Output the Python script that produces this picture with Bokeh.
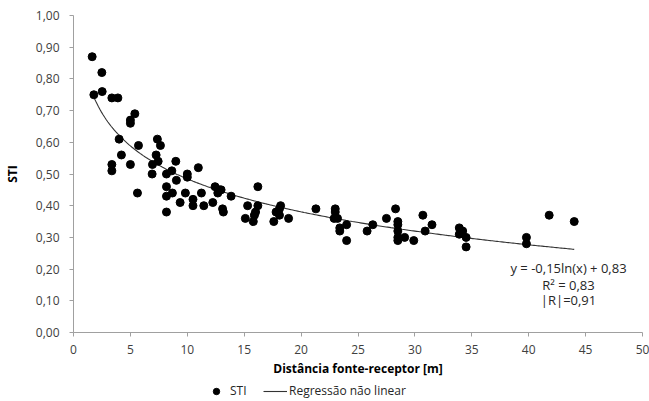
import numpy as np
from bokeh.plotting import figure
from bokeh.layouts import column
from bokeh.models import (Range1d, FixedTicker, CustomJSTickFormatter, Legend,
                          LegendItem, Label)
from bokeh.embed import file_html
from bokeh.resources import INLINE

# ---- data ----
distance = [1.64, 2.49, 1.79, 2.52, 3.37, 3.90, 5.39, 5.00, 5.00, 4.01,
            5.71, 4.21, 3.37, 3.37, 5.00, 7.37, 7.64, 7.26, 6.94, 7.44,
            6.91, 8.99, 5.62, 8.17, 8.64, 8.17, 8.17, 8.69, 9.04, 10.0,
            10.0, 10.97, 9.83, 9.37, 10.5, 10.5, 8.17, 11.24, 11.45, 12.24,
            12.44, 12.82, 12.97, 12.68, 13.1, 13.17, 13.85, 16.2, 15.3, 16.2,
            16.0, 15.9, 15.1, 15.8, 18.2, 18.1, 17.8, 18.1, 17.6, 18.9,
            21.3, 23.0, 23.0, 23.2, 22.9, 23.4, 23.4, 24.0, 24.0, 25.8,
            26.3, 27.5, 28.3, 28.5, 28.5, 28.5, 28.5, 28.5, 29.1, 29.9,
            30.7, 31.5, 30.9, 33.9, 34.2, 33.9, 34.5, 34.5, 39.8, 39.8,
            41.8, 44.0]
sti = [0.87, 0.82, 0.75, 0.76, 0.74, 0.74, 0.69, 0.67, 0.66, 0.61,
       0.59, 0.56, 0.53, 0.51, 0.53, 0.61, 0.59, 0.56, 0.53, 0.54,
       0.50, 0.54, 0.44, 0.50, 0.51, 0.46, 0.43, 0.44, 0.48, 0.50,
       0.49, 0.52, 0.44, 0.41, 0.42, 0.40, 0.38, 0.44, 0.40, 0.41,
       0.46, 0.45, 0.45, 0.44, 0.39, 0.38, 0.43, 0.46, 0.40, 0.40,
       0.38, 0.37, 0.36, 0.35, 0.40, 0.39, 0.38, 0.37, 0.35, 0.36,
       0.39, 0.39, 0.38, 0.36, 0.36, 0.33, 0.32, 0.34, 0.29, 0.32,
       0.34, 0.36, 0.39, 0.35, 0.34, 0.32, 0.30, 0.29, 0.30, 0.29,
       0.37, 0.34, 0.32, 0.33, 0.32, 0.31, 0.30, 0.27, 0.30, 0.28,
       0.37, 0.35]

x_ticks = [0, 5, 10, 15, 20, 25, 30, 35, 40, 45, 50]
y_ticks = [0.0, 0.1, 0.2, 0.3, 0.4, 0.5, 0.6, 0.7, 0.8, 0.9, 1.0]

# regression y = a*ln(x) + b, as printed on the chart
reg_a = -0.15
reg_b = 0.83
reg_x_min = 1.75
reg_x_max = 44.0
eq_lines = ["y = -0,15ln(x) + 0,83", "R\u00b2 = 0,83", "|R|=0,91"]

x_label = "Dist\u00e2ncia fonte-receptor [m]"
y_label = "STI"
series_names = ["STI", "Regress\u00e3o n\u00e3o linear"]

FONT = "Open Sans"
AXIS_COLOR = "#a0a0a0"
TICK_TEXT = "#404040"
LINE_COLOR = "#333333"

p = figure(width=649, height=382, output_backend="svg", toolbar_location=None,
           x_range=Range1d(0, 50), y_range=Range1d(0, 1),
           min_border_left=72, min_border_right=7, min_border_top=15,
           min_border_bottom=50)
p.outline_line_color = None
p.grid.grid_line_color = None
p.background_fill_color = "white"
p.border_fill_color = "white"

reg_x = np.linspace(reg_x_min, reg_x_max, 300)
reg_y = reg_a * np.log(reg_x) + reg_b

ln = p.line(reg_x, reg_y, line_color=LINE_COLOR, line_width=1.1)
sc = p.scatter(distance, sti, size=8, fill_color="black", line_color="black")

# axes
p.xaxis.ticker = FixedTicker(ticks=x_ticks)
p.yaxis.ticker = FixedTicker(ticks=y_ticks)
p.yaxis.formatter = CustomJSTickFormatter(code="return tick.toFixed(2).replace('.', ',');")
p.xaxis.formatter = CustomJSTickFormatter(code="return tick.toFixed(0);")
for ax in (p.xaxis, p.yaxis):
    ax.axis_line_color = AXIS_COLOR
    ax.major_tick_line_color = AXIS_COLOR
    ax.major_tick_out = 4
    ax.major_tick_in = 0
    ax.minor_tick_line_color = None
    ax.major_label_text_font = FONT
    ax.major_label_text_font_size = "12px"
    ax.major_label_text_color = TICK_TEXT
    ax.axis_label_text_font = FONT
    ax.axis_label_text_font_size = "12px"
    ax.axis_label_text_font_style = "bold"
    ax.axis_label_text_color = "black"
p.xaxis.axis_label = x_label
p.yaxis.axis_label = y_label
p.yaxis.major_label_standoff = 10
p.yaxis.axis_label_standoff = 12
p.xaxis.major_label_standoff = 8
p.xaxis.axis_label_standoff = 3

# regression equation text
eq_x = 43.5
eq_ys = [0.204, 0.150, 0.103]
for txt, yy in zip(eq_lines, eq_ys):
    p.add_layout(Label(x=eq_x, y=yy, text=txt, text_align="center",
                       text_baseline="middle", text_font=FONT,
                       text_font_size="13px", text_color="#262626"))

# ---- legend strip below the chart (same series, drawn off-view; only the legend shows) ----
lg = figure(width=649, height=19, output_backend="svg", toolbar_location=None,
            x_axis_type=None, y_axis_type=None, min_border=0,
            x_range=Range1d(-20, -10), y_range=Range1d(-20, -10))
lg.outline_line_color = None
lg.grid.grid_line_color = None
lg_sc = lg.scatter(distance, sti, size=8, fill_color="black", line_color="black")
lg_ln = lg.line(reg_x, reg_y, line_color=LINE_COLOR, line_width=1.1)
legend = Legend(items=[LegendItem(label=series_names[0], renderers=[lg_sc]),
                       LegendItem(label=series_names[1], renderers=[lg_ln])],
                orientation="horizontal", location=(131, 2),
                glyph_width=24, glyph_height=16, label_standoff=2, spacing=13,
                padding=0, margin=0, border_line_color=None,
                background_fill_alpha=0, label_text_font=FONT,
                label_text_font_size="12px", label_text_color="#262626",
                label_height=16)
lg.add_layout(legend, "center")

layout = column(p, lg, spacing=0)
open("out.html", "w").write(file_html(layout, INLINE))
